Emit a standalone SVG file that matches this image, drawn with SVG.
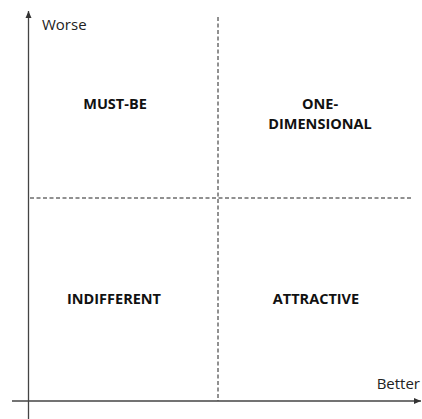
<svg xmlns="http://www.w3.org/2000/svg" width="422" height="419" viewBox="0 0 422 419">
<style>
.axis{stroke:#444;stroke-width:1.3;fill:none}
.dash{stroke:#222;stroke-width:1;stroke-dasharray:4 2.5;fill:none}
.lbl{font-family:"Open Sans","Liberation Sans",sans-serif;font-size:15px;fill:#222}
.q{font-family:"Open Sans","Liberation Sans",sans-serif;font-size:14.5px;font-weight:bold;fill:#111;text-anchor:middle}
</style>
<defs>
<marker id="ah" markerWidth="8" markerHeight="8" refX="7" refY="4" orient="auto" markerUnits="userSpaceOnUse">
<path d="M0,1 L7,4 L0,7 Z" fill="#333"/>
</marker>
</defs>
<rect width="422" height="419" fill="#fff"/>
<g id="connectors">
<line class="axis" x1="28.5" y1="419" x2="28.5" y2="11" marker-end="url(#ah)"/>
<line class="axis" x1="12" y1="401" x2="421" y2="401" marker-end="url(#ah)"/>
<line class="dash" x1="218" y1="17" x2="218" y2="401"/>
<line class="dash" x1="30" y1="198" x2="413" y2="198"/>
</g>
<g id="worse"><text class="lbl" x="42" y="30">Worse</text></g>
<g id="better"><text class="lbl" x="420" y="389" text-anchor="end">Better</text></g>
<g id="must-be"><text class="q" x="115" y="109">MUST-BE</text></g>
<g id="one-dimensional"><text class="q" x="320" y="109">ONE-</text><text class="q" x="320" y="129">DIMENSIONAL</text></g>
<g id="indifferent"><text class="q" x="114" y="304">INDIFFERENT</text></g>
<g id="attractive"><text class="q" x="316" y="304">ATTRACTIVE</text></g>
</svg>
